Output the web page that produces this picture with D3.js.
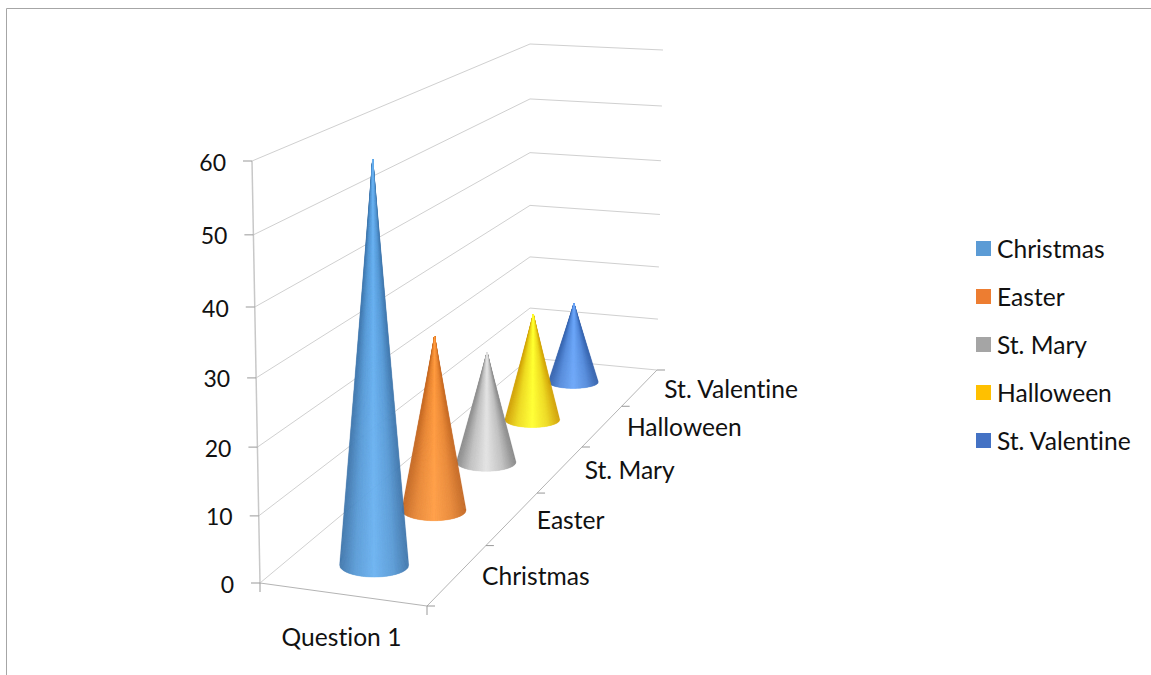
<!DOCTYPE html>
<html>
<head>
<meta charset="utf-8">
<script src="https://cdn.jsdelivr.net/npm/d3@7/dist/d3.min.js"></script>
<style>
  html, body { margin: 0; padding: 0; background: #fff; }
  svg { display: block; }
  text { font-family: Lato, "Open Sans", sans-serif; fill: #111; font-variant-ligatures: none; }
</style>
</head>
<body>
<svg id="chart" width="1151" height="675"></svg>
<script>
// Chart data
const seriesNames = ["Christmas", "Easter", "St. Mary", "Halloween", "St. Valentine"];
const seriesValues = [59, 27.7, 18.7, 19, 15];
const legendColors = ["#5b9bd5", "#ed7d31", "#a5a5a5", "#ffc000", "#4472c4"];
const coneEdgeColors = ["#3d74aa", "#c2651f", "#868686", "#cf9c00", "#2f5da8"];
const coneMidColors = ["#69b1f1", "#ff9c42", "#e2e2e2", "#ffff30", "#6ba6f8"];
const valueTicks = [0, 10, 20, 30, 40, 50, 60];
const categoryLabel = "Question 1";

const svg = d3.select("#chart");

// Chart frame: only the top and left edges are visible
svg.append("path").attr("d", "M6.5,675V8.5H1151").attr("fill", "none").attr("stroke", "#a6a6a6");

// Perspective box: floor and ceiling as quads (front-left, front-right, back-right, back-left)
const floorQuad = [[260, 583], [427, 606], [657, 370], [530, 358]];
const ceilQuad = [[252, 161], [430, 176], [663, 50], [530, 44]];

// Unit square to quad homography
function homography(q) {
  const [[x0, y0], [x1, y1], [x2, y2], [x3, y3]] = q;
  const dx1 = x1 - x2, dx2 = x3 - x2, sx = x0 - x1 + x2 - x3;
  const dy1 = y1 - y2, dy2 = y3 - y2, sy = y0 - y1 + y2 - y3;
  const den = dx1 * dy2 - dx2 * dy1;
  const g = (sx * dy2 - dx2 * sy) / den;
  const h = (dx1 * sy - sx * dy1) / den;
  const a = x1 - x0 + g * x1, b = x3 - x0 + h * x3;
  const d = y1 - y0 + g * y1, e = y3 - y0 + h * y3;
  return (u, v) => {
    const w = g * u + h * v + 1;
    return [(a * u + b * v + x0) / w, (d * u + e * v + y0) / w];
  };
}
const floorMap = homography(floorQuad);
const ceilMap = homography(ceilQuad);

// Vertical value axis is slightly foreshortened
const heightScale = d3.scaleLinear().domain(valueTicks).range([0, 0.159, 0.322, 0.486, 0.654, 0.825, 1]);
// Depth axis: one band per category, front to back
const depthScale = d3.scaleLinear().domain([0, seriesNames.length]).range([0, 1]);
const rxScale = d3.scaleLinear().domain([0, 4]).range([34.5, 25]);
const ryScale = d3.scaleLinear().domain([0, 4]).range([12, 6.5]);

function project(u, depth, value) {
  const v = depthScale(depth);
  const a = floorMap(u, v), b = ceilMap(u, v), t = heightScale(value);
  return [a[0] + (b[0] - a[0]) * t, a[1] + (b[1] - a[1]) * t];
}

// Gridlines on the side wall and back wall
const grid = svg.append("g").attr("fill", "none").attr("stroke", "#d0d0d0").attr("stroke-width", 1);
const line = d3.line();
valueTicks.forEach(val => {
  grid.append("path").attr("d", line([
    project(0, 0, val),
    project(0, seriesNames.length, val),
    project(1, seriesNames.length, val)
  ]));
});

// Value axis
const axis = svg.append("g");
axis.append("path").attr("d", line([project(0, 0, 0), project(0, 0, 60)]))
  .attr("stroke", "#c8c8c8").attr("stroke-width", 1.5).attr("fill", "none");
valueTicks.forEach(val => {
  const [x, y] = project(0, 0, val);
  axis.append("path").attr("d", line([[x - 9, y], [x, y]])).attr("stroke", "#999").attr("fill", "none");
  axis.append("text").attr("x", x - 26).attr("y", y + 1.5).attr("dy", "0.35em")
    .attr("text-anchor", "end").attr("font-size", 23).text(val);
});

// Floor edges with their tick marks
const floorAxis = svg.append("g").attr("fill", "none").attr("stroke", "#b4b4b4");
floorAxis.append("path").attr("d", line([project(0, 0, 0), project(1, 0, 0), project(1, seriesNames.length, 0)]));
[0, 1].forEach(u => {
  const [x, y] = project(u, 0, 0);
  floorAxis.append("path").attr("d", line([[x, y], [x, y + 9]])).attr("stroke", "#999");
});
d3.range(0, seriesNames.length + 1).forEach(i => {
  const [x, y] = project(1, i, 0);
  floorAxis.append("path").attr("d", line([[x, y], [x + 8, y]])).attr("stroke", "#999");
});

// Category labels along the depth edge
seriesNames.forEach((name, i) => {
  const [x, y] = project(1, i + 0.5, 0);
  svg.append("text").attr("x", x + 24.5).attr("y", y + 1.5).attr("dy", "0.35em")
    .attr("font-size", 24.6).text(name);
});
svg.append("text").attr("x", 341.5).attr("y", 637).attr("dy", "0.35em")
  .attr("text-anchor", "middle").attr("font-size", 24.6).text(categoryLabel);

// Cones, painted back to front; each is a fan of narrow facets for the round shading,
// with the brightest middle facets laid last so the tip stays light
const cones = svg.append("g");
d3.range(seriesNames.length - 1, -1, -1).forEach(i => {
  const [cx, cy] = project(0.5, i + 0.48, 0);
  const apex = project(0.5, i + 0.48, seriesValues[i]);
  const rx = rxScale(i), ry = ryScale(i);
  const shade = d3.scaleLinear()
    .domain([0, 0.45, 1])
    .range([coneEdgeColors[i], d3.interpolateRgb(coneEdgeColors[i], coneMidColors[i])(0.62), coneMidColors[i]]);
  const n = 90;
  const edgePoint = s => [cx + rx * s, cy + ry * Math.sqrt(Math.max(0, 1 - s * s))];
  const facets = d3.range(n).map(k => [-1 + 2 * k / n, -1 + 2 * (k + 1) / n]);
  facets.sort((a, b) => Math.abs(b[0] + b[1]) - Math.abs(a[0] + a[1]));
  const g = cones.append("g");
  facets.forEach(([s0, s1]) => {
    const c = shade(1 - Math.abs((s0 + s1) / 2));
    g.append("path").attr("d", line([apex, edgePoint(s0), edgePoint(s1)]) + "Z")
      .attr("fill", c).attr("stroke", c).attr("stroke-width", 0.4);
  });
});

// Legend
seriesNames.forEach((name, i) => {
  const y = 241 + i * 48;
  svg.append("rect").attr("x", 976).attr("y", y).attr("width", 15).attr("height", 15).attr("fill", legendColors[i]);
  svg.append("text").attr("x", 997).attr("y", y + 8.5).attr("dy", "0.35em").attr("font-size", 24.6).text(name);
});
</script>
</body>
</html>
